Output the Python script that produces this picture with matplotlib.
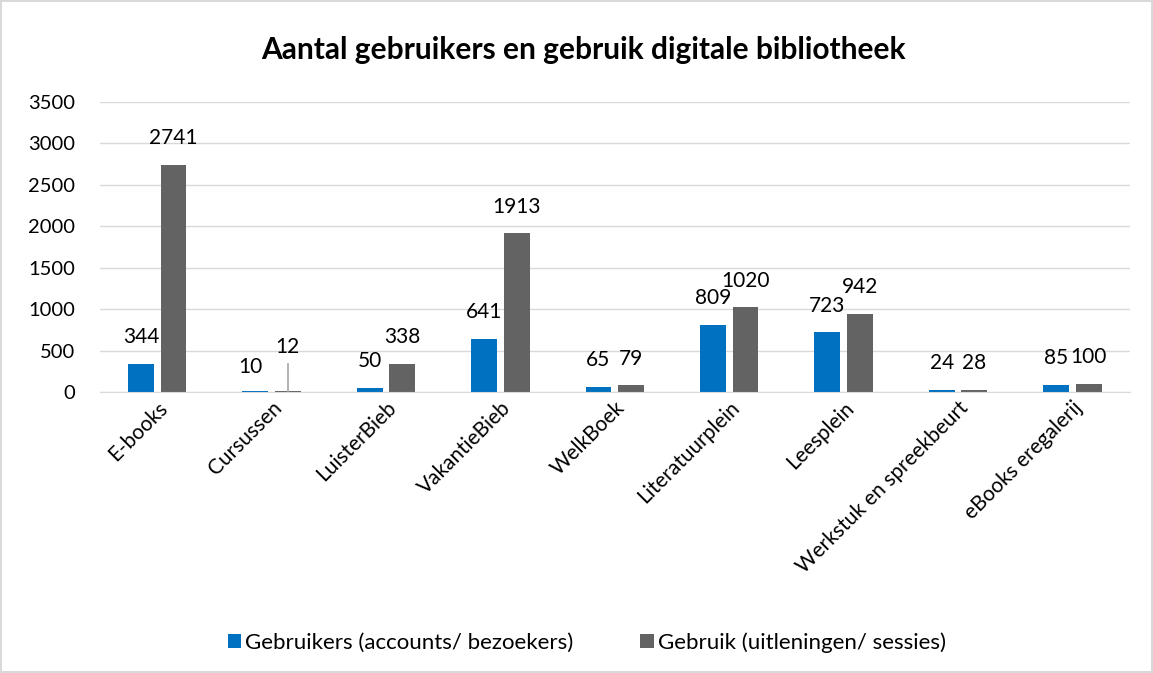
import numpy as np
import matplotlib.pyplot as plt

categories = ["E-books", "Cursussen", "LuisterBieb", "VakantieBieb", "WelkBoek",
              "Literatuurplein", "Leesplein", "Werkstuk en spreekbeurt", "eBooks eregalerij"]
gebruikers = [344, 10, 50, 641, 65, 809, 723, 24, 85]
gebruik = [2741, 12, 338, 1913, 79, 1020, 942, 28, 100]

plt.rcParams['font.family'] = ['Lato', 'DejaVu Sans']

fig = plt.figure(figsize=(11.53, 6.73), dpi=100)
fig.patch.set_edgecolor("#d9d9d9")
fig.patch.set_linewidth(1.5)
ax = fig.add_axes([0.0867, 0.4175, 0.893, 0.431])

x = np.arange(len(categories))
w = 0.225
off = w / 2 + 0.03
b1 = ax.bar(x - off, gebruikers, w, color="#0070C0", label="Gebruikers (accounts/ bezoekers)")
b2 = ax.bar(x + off, gebruik, w, color="#636363", label="Gebruik (uitleningen/ sessies)")

for i in range(len(categories)):
    if categories[i] == "Cursussen":
        # labels verschoven, met verbindingslijn
        ax.text(x[i] - off - 0.04, 300, str(gebruikers[i]), ha="center", va="center", fontsize=15)
        ax.text(x[i] + off, 545, str(gebruik[i]), ha="center", va="center", fontsize=15)
        ax.plot([x[i] + off, x[i] + off], [gebruik[i], 340], color="#a6a6a6", lw=1.2)
        continue
    ax.text(x[i] - off, gebruikers[i] + 200, str(gebruikers[i]), ha="center", va="bottom", fontsize=15)
    ax.text(x[i] + off, gebruik[i] + 200, str(gebruik[i]), ha="center", va="bottom", fontsize=15)

ax.set_xlim(-0.5, len(categories) - 0.5)
ax.set_ylim(0, 3500)
ax.set_yticks(range(0, 3501, 500))
ax.grid(axis="y", color="#d9d9d9", lw=1)
ax.set_axisbelow(True)
for s in ["top", "right", "left"]:
    ax.spines[s].set_visible(False)
ax.spines["bottom"].set_color("#d9d9d9")
ax.tick_params(axis="y", length=0, labelsize=14.5, pad=18)
ax.tick_params(axis="x", length=0, labelsize=15, pad=4)
ax.set_xticks(x)
ax.set_xticklabels(categories, rotation=45, ha="right", rotation_mode="anchor")

fig.text(0.506, 0.925, "Aantal gebruikers en gebruik digitale bibliotheek",
         ha="center", va="center", fontsize=21.5, fontweight="bold")

fig.legend(handles=[b1, b2], loc="center", bbox_to_anchor=(0.509, 0.045), ncol=2,
           frameon=False, fontsize=16, handlelength=0.6, handleheight=0.6,
           handletextpad=0.2, columnspacing=3)

fig.savefig("out.png", dpi=100)
